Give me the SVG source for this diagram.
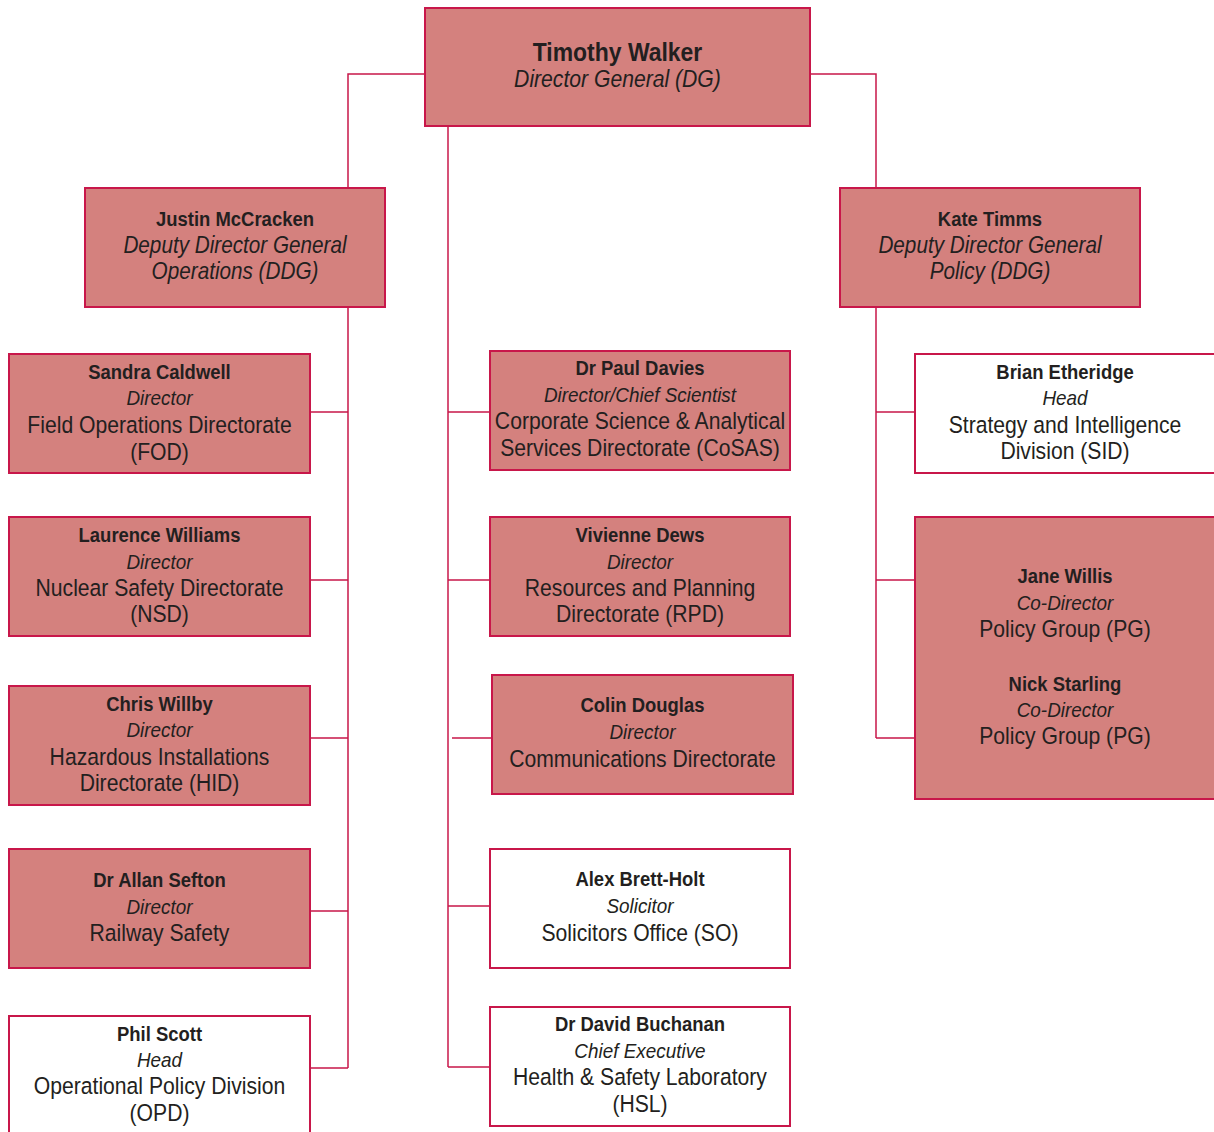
<svg xmlns="http://www.w3.org/2000/svg" width="1214" height="1132" viewBox="0 0 1214 1132">
<style>
.box{fill:#d4817e;stroke:#c8174a;stroke-width:2}
.wbox{fill:#ffffff;stroke:#c8174a;stroke-width:2}
.con{fill:none;stroke:#c8174a;stroke-width:1.5}
text{font-family:"Liberation Sans",Arial,sans-serif;fill:#231f20;text-anchor:middle}
.n{font-weight:bold;font-size:20.5px}
.r{font-style:italic;font-size:21px}
.r2{font-style:italic;font-size:23px}
.d{font-size:23.5px}
.big{font-weight:bold;font-size:25.5px}
.bigr{font-style:italic;font-size:23.5px}
</style>
<rect width="1214" height="1132" fill="#ffffff"/>
<g id="connectors">
<path class="con" d="M425,74 H348 V188 M810,74 H876 V188"/>
<path class="con" d="M448,126 V1067"/>
<path class="con" d="M348,307 V1068 M310,412 H348 M310,580 H348 M310,738 H348 M310,911 H348 M310,1068 H348"/>
<path class="con" d="M448,412 H490 M448,580 H490 M452,738 H492 M448,906 H490 M448,1067 H490"/>
<path class="con" d="M876,307 V738 M876,412 H915 M876,580 H915 M876,738 H915"/>
</g>
<g id="dg"><rect class="box" x="425" y="8" width="385" height="118"/>
<g transform="translate(61.75,0) scale(0.9,1)">
<text class="big" x="617.5" y="61">Timothy Walker</text>
<text class="bigr" x="617.5" y="87">Director General (DG)</text></g></g>
<g id="justin"><rect class="box" x="85" y="188" width="300" height="119"/>
<g transform="translate(23.5,0) scale(0.9,1)">
<text class="n" x="235" y="226">Justin McCracken</text>
<text class="r2" x="235" y="253">Deputy Director General</text>
<text class="r2" x="235" y="279">Operations (DDG)</text></g></g>
<g id="kate"><rect class="box" x="840" y="188" width="300" height="119"/>
<g transform="translate(99,0) scale(0.9,1)">
<text class="n" x="990" y="226">Kate Timms</text>
<text class="r2" x="990" y="253">Deputy Director General</text>
<text class="r2" x="990" y="279">Policy (DDG)</text></g></g>
<g id="sandra"><rect class="box" x="9" y="354" width="301" height="119"/>
<g transform="translate(15.95,0) scale(0.9,1)">
<text class="n" x="159.5" y="379">Sandra Caldwell</text>
<text class="r" x="159.5" y="405">Director</text>
<text class="d" x="159.5" y="433">Field Operations Directorate</text>
<text class="d" x="159.5" y="460">(FOD)</text></g></g>
<g id="laurence"><rect class="box" x="9" y="517" width="301" height="119"/>
<g transform="translate(15.95,0) scale(0.9,1)">
<text class="n" x="159.5" y="542">Laurence Williams</text>
<text class="r" x="159.5" y="569">Director</text>
<text class="d" x="159.5" y="596">Nuclear Safety Directorate</text>
<text class="d" x="159.5" y="622">(NSD)</text></g></g>
<g id="chris"><rect class="box" x="9" y="686" width="301" height="119"/>
<g transform="translate(15.95,0) scale(0.9,1)">
<text class="n" x="159.5" y="711">Chris Willby</text>
<text class="r" x="159.5" y="737">Director</text>
<text class="d" x="159.5" y="765">Hazardous Installations</text>
<text class="d" x="159.5" y="791">Directorate (HID)</text></g></g>
<g id="allan"><rect class="box" x="9" y="849" width="301" height="119"/>
<g transform="translate(15.95,0) scale(0.9,1)">
<text class="n" x="159.5" y="887">Dr Allan Sefton</text>
<text class="r" x="159.5" y="914">Director</text>
<text class="d" x="159.5" y="941">Railway Safety</text></g></g>
<g id="phil"><rect class="wbox" x="9" y="1016" width="301" height="130"/>
<g transform="translate(15.95,0) scale(0.9,1)">
<text class="n" x="159.5" y="1041">Phil Scott</text>
<text class="r" x="159.5" y="1067">Head</text>
<text class="d" x="159.5" y="1094">Operational Policy Division</text>
<text class="d" x="159.5" y="1121">(OPD)</text></g></g>
<g id="paul"><rect class="box" x="490" y="351" width="300" height="119"/>
<g transform="translate(64,0) scale(0.9,1)">
<text class="n" x="640" y="375">Dr Paul Davies</text>
<text class="r" x="640" y="402">Director/Chief Scientist</text>
<text class="d" x="640" y="429">Corporate Science &amp; Analytical</text>
<text class="d" x="640" y="456">Services Directorate (CoSAS)</text></g></g>
<g id="vivienne"><rect class="box" x="490" y="517" width="300" height="119"/>
<g transform="translate(64,0) scale(0.9,1)">
<text class="n" x="640" y="542">Vivienne Dews</text>
<text class="r" x="640" y="569">Director</text>
<text class="d" x="640" y="596">Resources and Planning</text>
<text class="d" x="640" y="622">Directorate (RPD)</text></g></g>
<g id="colin"><rect class="box" x="492" y="675" width="301" height="119"/>
<g transform="translate(64.25,0) scale(0.9,1)">
<text class="n" x="642.5" y="712">Colin Douglas</text>
<text class="r" x="642.5" y="739">Director</text>
<text class="d" x="642.5" y="767">Communications Directorate</text></g></g>
<g id="alex"><rect class="wbox" x="490" y="849" width="300" height="119"/>
<g transform="translate(64,0) scale(0.9,1)">
<text class="n" x="640" y="886">Alex Brett-Holt</text>
<text class="r" x="640" y="913">Solicitor</text>
<text class="d" x="640" y="941">Solicitors Office (SO)</text></g></g>
<g id="david"><rect class="wbox" x="490" y="1007" width="300" height="119"/>
<g transform="translate(64,0) scale(0.9,1)">
<text class="n" x="640" y="1031">Dr David Buchanan</text>
<text class="r" x="640" y="1058">Chief Executive</text>
<text class="d" x="640" y="1085">Health &amp; Safety Laboratory</text>
<text class="d" x="640" y="1112">(HSL)</text></g></g>
<g id="brian"><rect class="wbox" x="915" y="354" width="310" height="119"/>
<g transform="translate(106.5,0) scale(0.9,1)">
<text class="n" x="1065" y="379">Brian Etheridge</text>
<text class="r" x="1065" y="405">Head</text>
<text class="d" x="1065" y="433">Strategy and Intelligence</text>
<text class="d" x="1065" y="459">Division (SID)</text></g></g>
<g id="policy"><rect class="box" x="915" y="517" width="310" height="282"/>
<g transform="translate(106.5,0) scale(0.9,1)">
<text class="n" x="1065" y="583">Jane Willis</text>
<text class="r" x="1065" y="610">Co-Director</text>
<text class="d" x="1065" y="637">Policy Group (PG)</text>
<text class="n" x="1065" y="691">Nick Starling</text>
<text class="r" x="1065" y="717">Co-Director</text>
<text class="d" x="1065" y="744">Policy Group (PG)</text></g></g>
</svg>
